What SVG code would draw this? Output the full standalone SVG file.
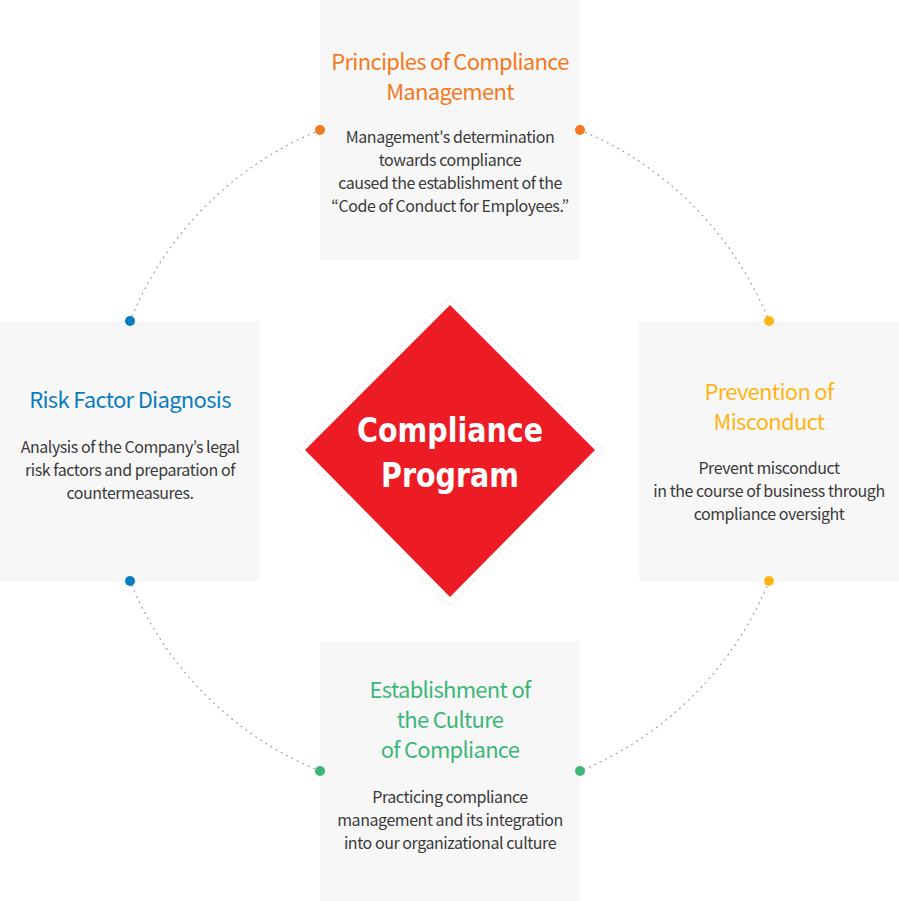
<svg xmlns="http://www.w3.org/2000/svg" width="899" height="901" viewBox="0 0 899 901">
<style>
.box{fill:#f7f7f7}
.t{font-family:"Noto Sans CJK KR","Noto Sans",sans-serif;font-size:22px;font-weight:400;text-anchor:middle;letter-spacing:-0.7px}
.b{font-family:"Noto Sans CJK KR","Noto Sans",sans-serif;font-size:16px;font-weight:400;fill:#3a3a3a;text-anchor:middle;letter-spacing:-0.45px}
.arc{fill:none;stroke:#9aa3a6;stroke-width:1.2;stroke-dasharray:1 5;stroke-linecap:round}
.c{font-family:"DejaVu Sans",sans-serif;font-size:33px;font-weight:bold;fill:#fff;text-anchor:middle}
</style>
<rect width="899" height="901" fill="#fff"/>
<g id="connectors">
<path class="arc" d="M320,130 A345,345 0 0 0 130,321"/>
<path class="arc" d="M580,130 A345,345 0 0 1 769,321"/>
<path class="arc" d="M769,581 A345,345 0 0 1 580,771"/>
<path class="arc" d="M320,771 A345,345 0 0 1 130,581"/>
</g>
<g id="center">
<polygon points="450,297 603,450 450,605 297,450" fill="none" stroke="#f6b7ba" stroke-width="1" stroke-dasharray="1 3"/>
<polygon points="450,305 595,450 450,597 305,450" fill="#ed1c24"/>
<text class="c" x="450" y="442" textLength="186" lengthAdjust="spacingAndGlyphs">Compliance</text>
<text class="c" x="450" y="487" textLength="138" lengthAdjust="spacingAndGlyphs">Program</text>
</g>
<g id="top">
<rect class="box" x="320" y="0" width="260" height="260"/>
<text class="t" fill="#f47920" x="450" y="70">Principles of Compliance</text>
<text class="t" fill="#f47920" x="450" y="100">Management</text>
<text class="b" x="450" y="143">Management's determination</text>
<text class="b" x="450" y="166">towards compliance</text>
<text class="b" x="450" y="189">caused the establishment of the</text>
<text class="b" x="450" y="212">“Code of Conduct for Employees.”</text>
<circle cx="320" cy="130" r="5" fill="#f47920"/>
<circle cx="580" cy="130" r="5" fill="#f47920"/>
</g>
<g id="left">
<rect class="box" x="0" y="321" width="260" height="260"/>
<text class="t" fill="#0a7dc0" x="130" y="408">Risk Factor Diagnosis</text>
<text class="b" x="130" y="453">Analysis of the Company’s legal</text>
<text class="b" x="130" y="476">risk factors and preparation of</text>
<text class="b" x="130" y="499">countermeasures.</text>
<circle cx="130" cy="321" r="5" fill="#0a7dc0"/>
<circle cx="130" cy="581" r="5" fill="#0a7dc0"/>
</g>
<g id="right">
<rect class="box" x="639" y="321" width="260" height="260"/>
<text class="t" fill="#fdb515" x="769" y="400">Prevention of</text>
<text class="t" fill="#fdb515" x="769" y="430">Misconduct</text>
<text class="b" x="769" y="474">Prevent misconduct</text>
<text class="b" x="769" y="497">in the course of business through</text>
<text class="b" x="769" y="520">compliance oversight</text>
<circle cx="769" cy="321" r="5" fill="#fdb515"/>
<circle cx="769" cy="581" r="5" fill="#fdb515"/>
</g>
<g id="bottom">
<rect class="box" x="320" y="641" width="260" height="260"/>
<text class="t" fill="#3db677" x="450" y="698">Establishment of</text>
<text class="t" fill="#3db677" x="450" y="728">the Culture</text>
<text class="t" fill="#3db677" x="450" y="758">of Compliance</text>
<text class="b" x="450" y="803">Practicing compliance</text>
<text class="b" x="450" y="826">management and its integration</text>
<text class="b" x="450" y="849">into our organizational culture</text>
<circle cx="320" cy="771" r="5" fill="#3db677"/>
<circle cx="580" cy="771" r="5" fill="#3db677"/>
</g>
</svg>
